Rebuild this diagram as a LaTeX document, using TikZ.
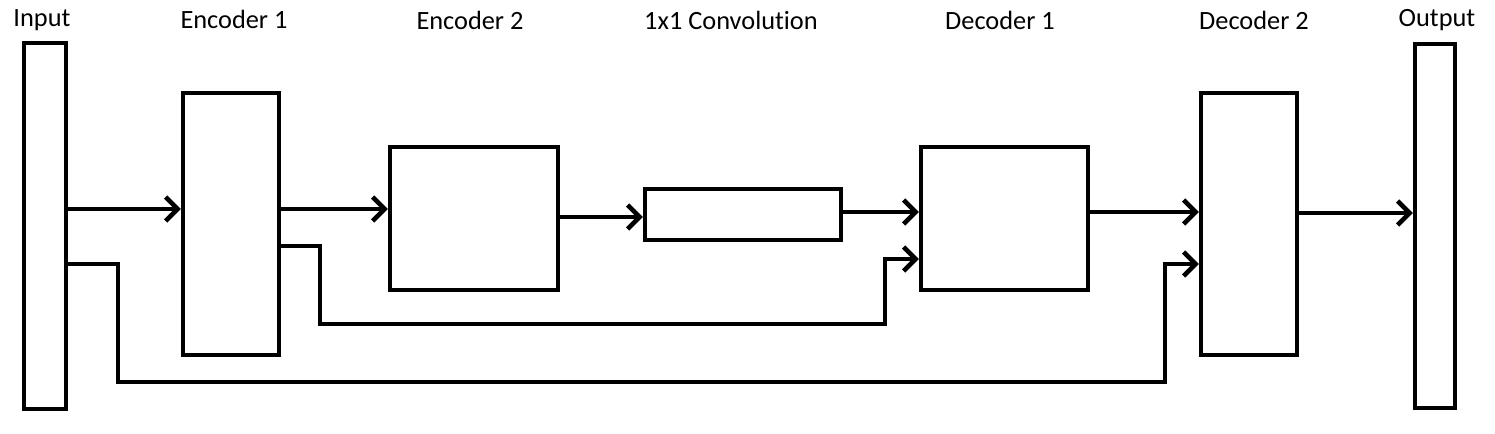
\documentclass[tikz,border=0pt]{standalone}
\usepackage{fontspec}
\setmainfont{Carlito}[Ligatures=NoCommon]
\usetikzlibrary{arrows.meta}

\begin{document}
\begin{tikzpicture}[x=0.02cm,y=-0.02cm,->,>={Straight Barb[length=2.4mm,width=4.8mm]},line width=0.09cm,line cap=round,
	block/.style={draw,rectangle,inner sep=0pt,line cap=butt},
	title/.style={anchor=base,font=\fontsize{15}{18}\selectfont}]

	\useasboundingbox (0,0) rectangle (1495,433);

	%nodes
	\node[block, minimum width=0.84cm, minimum height=7.32cm] (In) at (45,226) {};
	\node[block, minimum width=1.92cm, minimum height=5.24cm] (E1) at (231,224) {};
	\node[block, minimum width=3.36cm, minimum height=2.86cm] (E2) at (474,218.5) {};
	\node[block, minimum width=3.92cm, minimum height=1.02cm] (Conv) at (743,214.5) {};
	\node[block, minimum width=3.34cm, minimum height=2.86cm] (D1) at (1004.5,218.5) {};
	\node[block, minimum width=1.92cm, minimum height=5.24cm] (D2) at (1249,224) {};
	\node[block, minimum width=0.80cm, minimum height=7.28cm] (Out) at (1435,226) {};

	%titles
	\node[title] (InT) at (42,26) {Input};
	\node[title] (E1T) at (234,28) {Encoder 1};
	\node[title] (E2T) at (470,29) {Encoder 2};
	\node[title] (ConvT) at (731,29) {1x1 Convolution};
	\node[title] (D1T) at (1000,29) {Decoder 1};
	\node[title] (D2T) at (1254,29) {Decoder 2};
	\node[title] (OutT) at (1437,26) {Output};

	%levels of the arrows
	\coordinate (r1) at (0,209);
	\coordinate (r2) at (0,217);
	\coordinate (r3) at (0,212);
	\coordinate (r4) at (0,213);
	\coordinate (s1) at (320,246);
	\coordinate (s1b) at (885,324);
	\coordinate (s1c) at (885,259);
	\coordinate (s2) at (118,264);
	\coordinate (s2b) at (1165,382);
	\coordinate (s2c) at (1165,264);

	%main path
	\draw (In.east |- r1) -- (E1.west |- r1);
	\draw (E1.east |- r1) -- (E2.west |- r1);
	\draw (E2.east |- r2) -- (Conv.west |- r2);
	\draw (Conv.east |- r3) -- (D1.west |- r3);
	\draw (D1.east |- r3) -- (D2.west |- r3);
	\draw (D2.east |- r4) -- (Out.west |- r4);

	%skip connections
	\draw[line cap=butt] (E1.east |- s1) -| (s1 |- s1b) -| (s1c) -- (D1.west |- s1c);
	\draw[line cap=butt] (In.east |- s2) -| (s2 |- s2b) -| (s2c) -- (D2.west |- s2c);

\end{tikzpicture}
\end{document}
